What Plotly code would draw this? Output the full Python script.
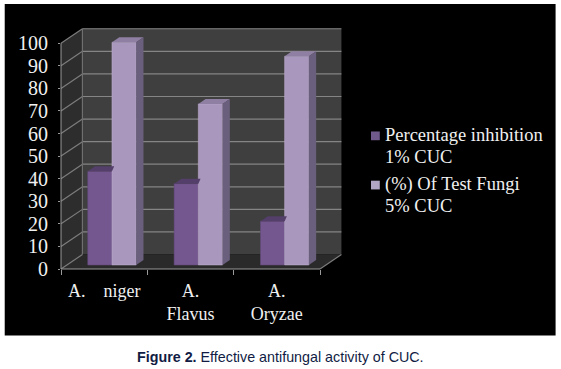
import plotly.graph_objects as go

categories = ["A.\u00a0\u00a0\u00a0\u00a0niger", "A.<br>Flavus", "A.<br>Oryzae"]
series_1_lines = ["Percentage inhibition", "1% CUC"]
series_2_lines = ["(%) Of Test Fungi", "5% CUC"]
series_1 = [41.5, 36, 19.4]
series_2 = [98.6, 71.3, 92.4]
y_ticks = list(range(0, 101, 10))
caption_bold = "Figure 2."
caption_rest = " Effective antifungal activity of CUC."

W, H = 561, 369
L, R, T, B = 60.5, 320.5, 43.3, 269.5
T0 = 4
DX, DY = 21.5, 14.5
PW, PH = R - L, B - T
SERIF = "Liberation Serif"
TXT = "#f0f0f0"

def px(x): return (x - L) / PW
def py(y): return (B - y) / (B - T0)
def poly(points, fill):
    d = "M" + " L".join(f"{px(a):.4f},{py(b):.4f}" for a, b in points) + " Z"
    return dict(type="path", xref="paper", yref="paper", path=d, fillcolor=fill, line=dict(width=0), layer="below")
def seg(x0, y0, x1, y1, color="#8a8a8a", width=1.2):
    return dict(type="line", xref="paper", yref="paper", x0=px(x0), y0=py(y0), x1=px(x1), y1=py(y1),
                line=dict(color=color, width=width), layer="below")

shapes = [poly([(4, 4), (557, 4), (557, 336), (4, 336)], "#000000")]
shapes.append(poly([(L + DX, T - DY), (R + DX, T - DY), (R + DX, B - DY), (L + DX, B - DY)], "#3f3f3f"))
shapes.append(poly([(L, T), (L + DX, T - DY), (L + DX, B - DY), (L, B)], "#2d2d2d"))
shapes.append(poly([(L, B), (L + DX, B - DY), (R + DX, B - DY), (R, B)], "#2a2a2a"))
for v in y_ticks:
    yy = B - v / 100 * PH
    shapes.append(seg(L, yy, L + DX, yy - DY, "#7d7d7d"))
    if v > 0:
        shapes.append(seg(L + DX, yy - DY, R + DX, yy - DY, "#858585"))
shapes.append(seg(R, B, R + DX, B - DY, "#7d7d7d"))
shapes.append(seg(L + DX, T - DY, L + DX, B - DY, "#6f6f6f"))
shapes.append(seg(L, B, R, B, "#9a9a9a", 1.2))
shapes.append(seg(L, T, L, B, "#9a9a9a", 1))

# legend swatches
shapes.append(poly([(371.7, 131.7), (380.5, 131.7), (380.5, 140.5), (371.7, 140.5)], "#6f5a8b"))
shapes.append(poly([(371.7, 181), (380.5, 181), (380.5, 189.8), (371.7, 189.8)], "#b0a6c4"))

unit = PW / 3
BASE = 1.8
BW = 24.3 / unit
OFF1 = (87.4 - (L + unit / 2)) / unit
OFF2 = OFF1 + BW
SX = 7.3 / unit
SY = 5 / PH * 100

fig = go.Figure()
fig.add_bar(x=categories, y=series_1, base=[BASE] * 3, offset=OFF1, width=BW, name=series_1_lines[0],
            marker=dict(color="#74578f", line=dict(color="#634a7c", width=0.6)), showlegend=False)
fig.add_bar(x=categories, y=series_2, base=[BASE] * 3, offset=OFF2, width=BW, name=series_2_lines[0],
            marker=dict(color="#a997bd", line=dict(color="#bcaccd", width=0.6)), showlegend=False)

for i, (a, b) in enumerate(zip(series_1, series_2)):
    x0, x1, x2 = i + OFF1, i + OFF2, i + OFF2 + BW
    ya, yb = a + BASE, b + BASE
    faces = [
        ([x0, x0 + SX, x1 + SX * 0.3, x1, x0], [ya, ya + SY, ya + SY, ya, ya], "#533f69"),
        ([x1, x1 + SX, x2 + SX, x2, x1], [yb, yb + SY, yb + SY, yb, yb], "#8f7fa3"),
        ([x2, x2 + SX, x2 + SX, x2, x2], [yb, yb + SY, BASE + SY, BASE, yb], "#6b5f7e"),
    ]
    for fx, fy, col in faces:
        fig.add_scatter(x=fx, y=fy, xaxis="x2", mode="lines", fill="toself", fillcolor=col,
                        line=dict(width=0), hoverinfo="skip", showlegend=False)

annotations = []
for text, yy in zip(series_1_lines + series_2_lines, [135, 157, 185, 206.5]):
    annotations.append(dict(xref="paper", yref="paper", x=px(384), y=py(yy), xanchor="left", yanchor="middle",
                            showarrow=False, text=text, font=dict(family=SERIF, size=18.5, color=TXT)))
annotations.append(dict(xref="paper", yref="paper", x=px(281), y=py(358), xanchor="center", yanchor="middle",
                        showarrow=False, text=f"<b>{caption_bold}</b>{caption_rest}",
                        font=dict(family="Liberation Sans", size=14.3, color="#111c44")))

fig.update_layout(
    width=W, height=H, autosize=False, margin=dict(l=L, r=W - R, t=T0, b=H - B, pad=0),
    paper_bgcolor="#ffffff", plot_bgcolor="rgba(0,0,0,0)", barmode="overlay", shapes=shapes, showlegend=False,
    xaxis=dict(type="category", categoryorder="array", categoryarray=categories, range=[-0.5, 2.5],
               tickson="boundaries", ticks="outside", ticklen=5, tickcolor="#9a9a9a", tickwidth=1,
               showgrid=False, showline=False, zeroline=False, tickangle=0, ticklabelstandoff=9,
               tickfont=dict(family=SERIF, size=18, color=TXT)),
    xaxis2=dict(overlaying="x", range=[-0.5, 2.5], visible=False),
    yaxis=dict(range=[0, (B - T0) / PH * 100], tickvals=y_ticks, ticks="outside", ticklen=2, tickcolor="#9a9a9a",
               showgrid=False, zeroline=False, showline=False, ticklabelstandoff=6,
               tickfont=dict(family=SERIF, size=20, color=TXT)),
    annotations=annotations,
)
fig.write_html("out.html", post_script="document.body.style.margin='0';", config=dict(displayModeBar=False))
